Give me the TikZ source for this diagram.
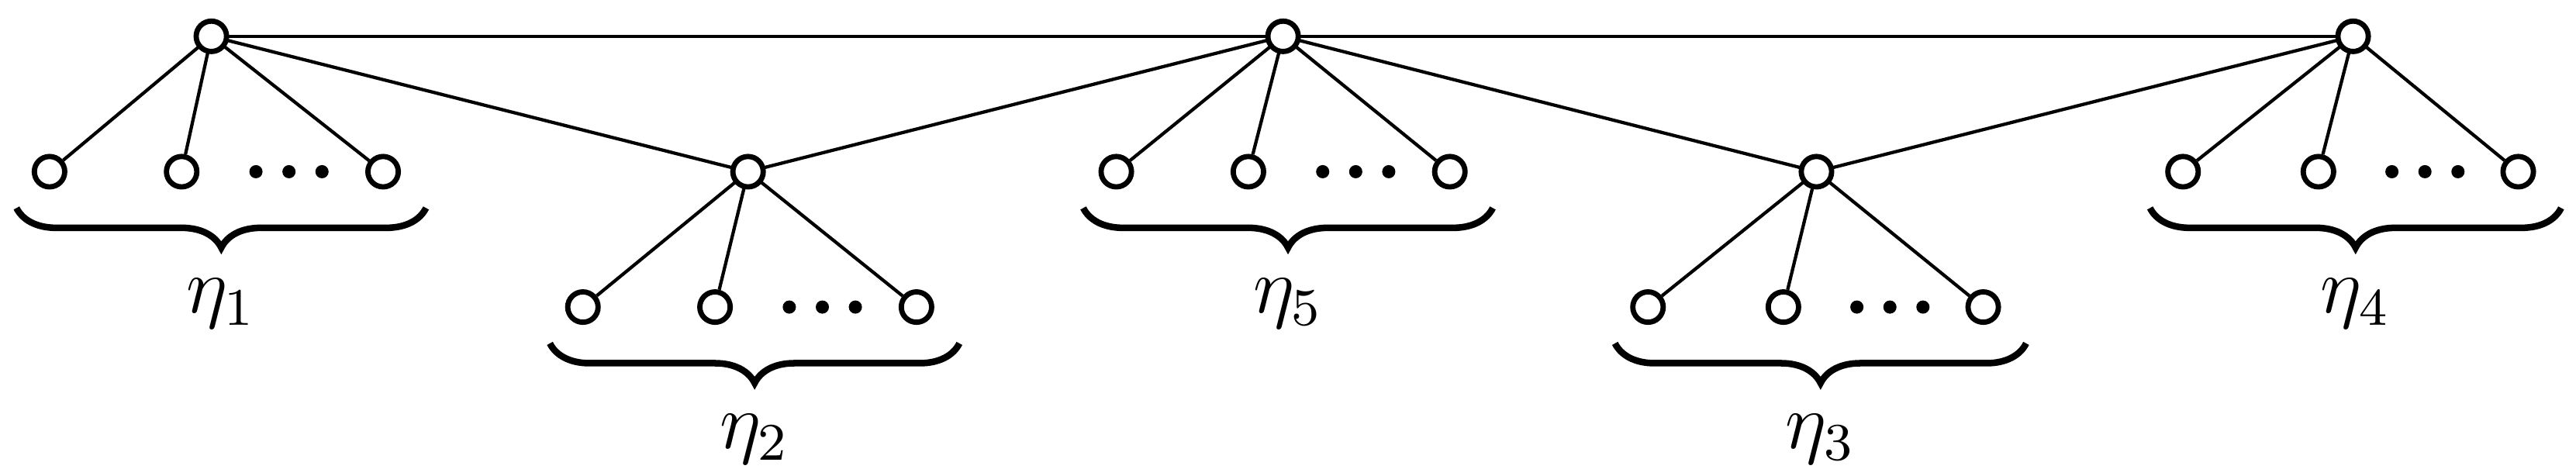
\documentclass[tikz,border=0pt]{standalone}
\usetikzlibrary{decorations.pathreplacing}
\begin{document}
\begin{tikzpicture}[x=0.25pt,y=-0.25pt,
  v/.style={circle,draw,line width=0.8pt,fill=white,inner sep=0pt,minimum size=4.6pt},
  e/.style={line width=0.5pt},
  dot/.style={circle,fill,inner sep=0pt,minimum size=2pt},
  br/.style={decorate,decoration={brace,mirror,amplitude=6pt},line width=1pt},
  lab/.style={font=\large}]
\useasboundingbox (0,0) rectangle (1560,288);
\draw[e] (128,22) -- (1425,22);
\foreach \n/\x/\y in {t1/128/22,t5/777/22,t4/1425/22,m2/453/104,m3/1100/104}{\coordinate (\n) at (\x,\y);}
\draw[e] (t1) -- (m2) -- (t5) -- (m3) -- (t4);
\foreach \g/\a/\b/\c/\y/\r/\lbl in {g1/30/110/232/104/t1/1, g2/353/433/555/186/m2/2, g5/676/756/878/104/t5/5, g3/998/1080/1201/186/m3/3, g4/1322/1404/1525/104/t4/4}{
  \node[v] (\g a) at (\a,\y) {};
  \node[v] (\g b) at (\b,\y) {};
  \node[v] (\g c) at (\c,\y) {};
  \draw[e] (\r) -- (\g a); \draw[e] (\r) -- (\g b); \draw[e] (\r) -- (\g c);
  \node[dot] (\g d1) at ({(\b+\c)/2-16},\y) {};
  \node[dot] (\g d2) at ({(\b+\c)/2+4},\y) {};
  \node[dot] (\g d3) at ({(\b+\c)/2+24},\y) {};
  \draw[br] ({\a-20},\y+22) -- ({\c+26},\y+22);
  \node[lab] (\g l) at ({(\a+\c)/2+3},\y+80) {$\eta_{\lbl}$};
}
\foreach \n in {t1,t5,t4,m2,m3}{\node[v] at (\n) {};}
\end{tikzpicture}
\end{document}
